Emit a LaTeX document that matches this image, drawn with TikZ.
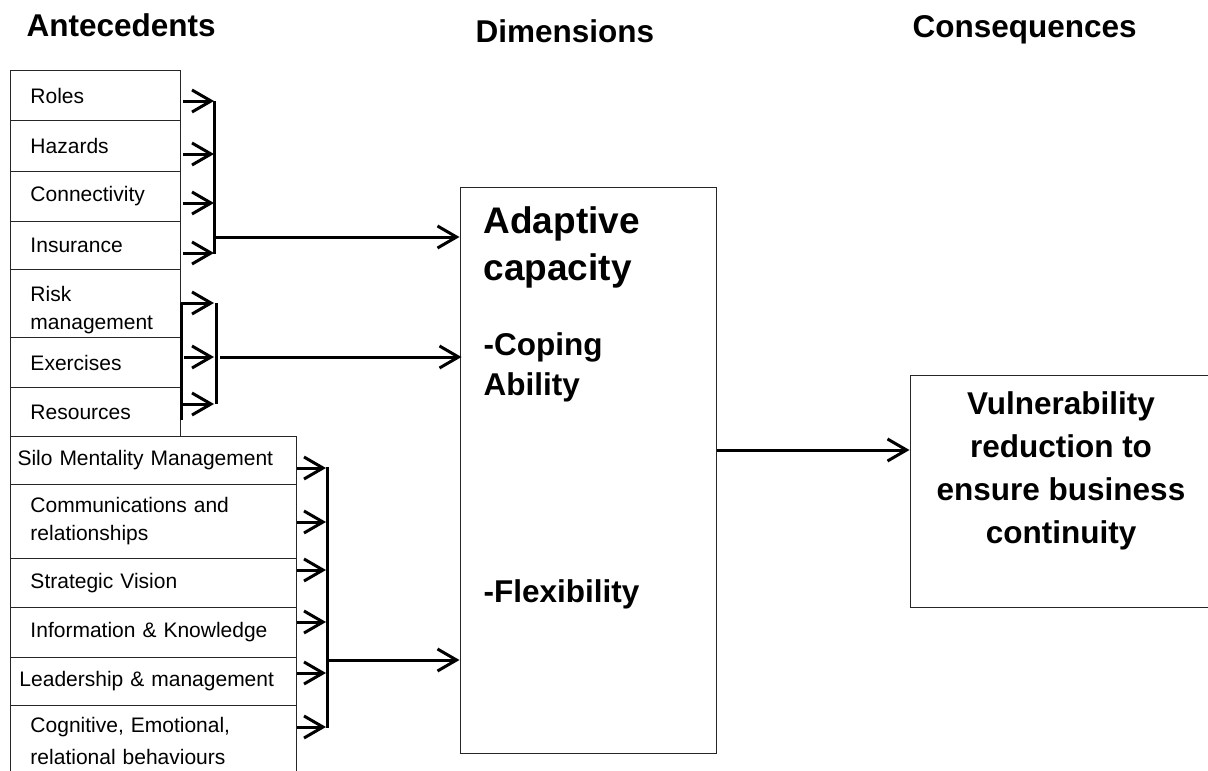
\documentclass[tikz,border=0pt]{standalone}
\usepackage{fontspec}
\setmainfont{Liberation Sans}
\usetikzlibrary{arrows.meta}

\tikzset{
  ante/.style={draw=black!85, line width=1pt, fill=white, anchor=north west,
    text width=130pt, inner xsep=20pt, inner ysep=0pt, align=left,
    font=\fontsize{21}{28}\selectfont},
  wide/.style={text width=246pt},
  dimbox/.style={draw=black!85, line width=1pt, inner sep=0pt},
  head/.style={anchor=base west, font=\fontsize{31.5}{38}\selectfont\bfseries},
  link/.style={line width=3pt},
  arr/.style={link, -{Straight Barb[length=19pt,width=22pt]}},
}

\begin{document}
\begin{tikzpicture}[x=1pt,y=-1pt]
	\useasboundingbox (0,0) rectangle (1208,771);

	% column heads
	\node[head] (hante) at (23,36) {Antecedents};
	\node[head] (hdim)  at (472,42) {Dimensions};
	\node[head] (hcons) at (909,37) {Consequences};

	% antecedents
	\node[ante, minimum height=50pt] (roles)   at (10,70)  {Roles};
	\node[ante, minimum height=51pt] (hazards) at (10,120) {Hazards};
	\node[ante, minimum height=50pt] (connect) at (10,171) {Connectivity};
	\node[ante, minimum height=48pt] (insur)   at (10,221) {Insurance};
	\node[ante, minimum height=82pt] (risk)    at (10,269) {Risk\\management};
	\node[ante, minimum height=50pt] (exerc)   at (10,337) {Exercises};
	\node[ante, minimum height=49pt] (resour)  at (10,387) {Resources};
	\node[ante, wide, inner xsep=7pt, text width=272pt, minimum height=48pt] (silo) at (10,436) {Silo Mentality Management};
	\node[ante, wide, minimum height=74pt] (comm)  at (10,484) {Communications and\\relationships};
	\node[ante, wide, minimum height=49pt] (strat) at (10,558) {Strategic Vision};
	\node[ante, wide, minimum height=50pt] (info)  at (10,607) {Information \& Knowledge};
	\node[ante, wide, inner xsep=9pt, text width=268pt, minimum height=48pt] (lead) at (10,657) {Leadership \& management};
	\node[ante, wide, minimum height=70pt] (cogn)  at (10,705) {Cognitive, Emotional,\\[4pt]relational behaviours};

	% dimensions
	\node[dimbox, minimum width=256pt, minimum height=566pt] (adapt) at (588,470) {};
	\node[anchor=base west, align=left, font=\fontsize{37}{47}\selectfont\bfseries] (adtxt) at (480,280) {Adaptive\\capacity};
	\node[anchor=base west, align=left, font=\fontsize{31.5}{40}\selectfont\bfseries] (coptxt) at (480,395) {-Coping\\Ability};
	\node[anchor=base west, font=\fontsize{31.5}{40}\selectfont\bfseries] (flextxt) at (480,602) {-Flexibility};

	% consequences
	\node[dimbox, minimum width=300pt, minimum height=232pt] (vul) at (1060,491) {};
	\node[anchor=base, align=center, font=\fontsize{31.5}{43}\selectfont\bfseries] (vultxt) at (1061,543)
		{Vulnerability\\reduction to\\ensure business\\continuity};

	% first group
	\coordinate (b1top) at (214,101);
	\coordinate (b1bot) at (214,254);
	\draw[link] (b1top) -- (b1bot);
	\foreach \n/\y in {roles/101,hazards/154,connect/203,insur/253}
	{
		\coordinate (t-\n) at (214,\y);
		\draw[arr] ([xshift=2pt]\n.east |- t-\n) -- (t-\n);
	}
	\coordinate (j1) at (214,237);
	\draw[arr] (j1) -- (j1 -| adapt.west);

	% second group
	\coordinate (l2top) at (181,303);
	\coordinate (l2bot) at (181,420);
	\coordinate (r2top) at (216,303);
	\coordinate (r2bot) at (216,404);
	\draw[link] (l2top) -- (l2bot);
	\draw[link] (r2top) -- (r2bot);
	\draw[arr] (l2top) -- ([xshift=-2pt]r2top);
	\draw[arr] ([xshift=3pt]exerc.east |- 0,357) -- ([xshift=-2pt]r2top |- 0,357);
	\draw[arr] (l2bot |- r2bot) -- ([xshift=-2pt]r2bot);
	\coordinate (j2) at (216,357);
	\draw[arr] ([xshift=4pt]j2) -- ([xshift=2pt]j2 -| adapt.west);

	% third group
	\coordinate (b3top) at (327,467);
	\coordinate (b3bot) at (327,728);
	\draw[link] (b3top) -- (b3bot);
	\foreach \y in {468,522,570,622,673,727}
		\draw[arr] (silo.east |- 0,\y) -- ([xshift=-1pt]b3top |- 0,\y);
	\coordinate (j3) at (327,660);
	\draw[arr] (j3) -- (j3 -| adapt.west);

	% output
	\draw[arr] ([yshift=20pt]adapt.east) -- ([yshift=20pt]adapt.east -| vul.west);
\end{tikzpicture}
\end{document}
